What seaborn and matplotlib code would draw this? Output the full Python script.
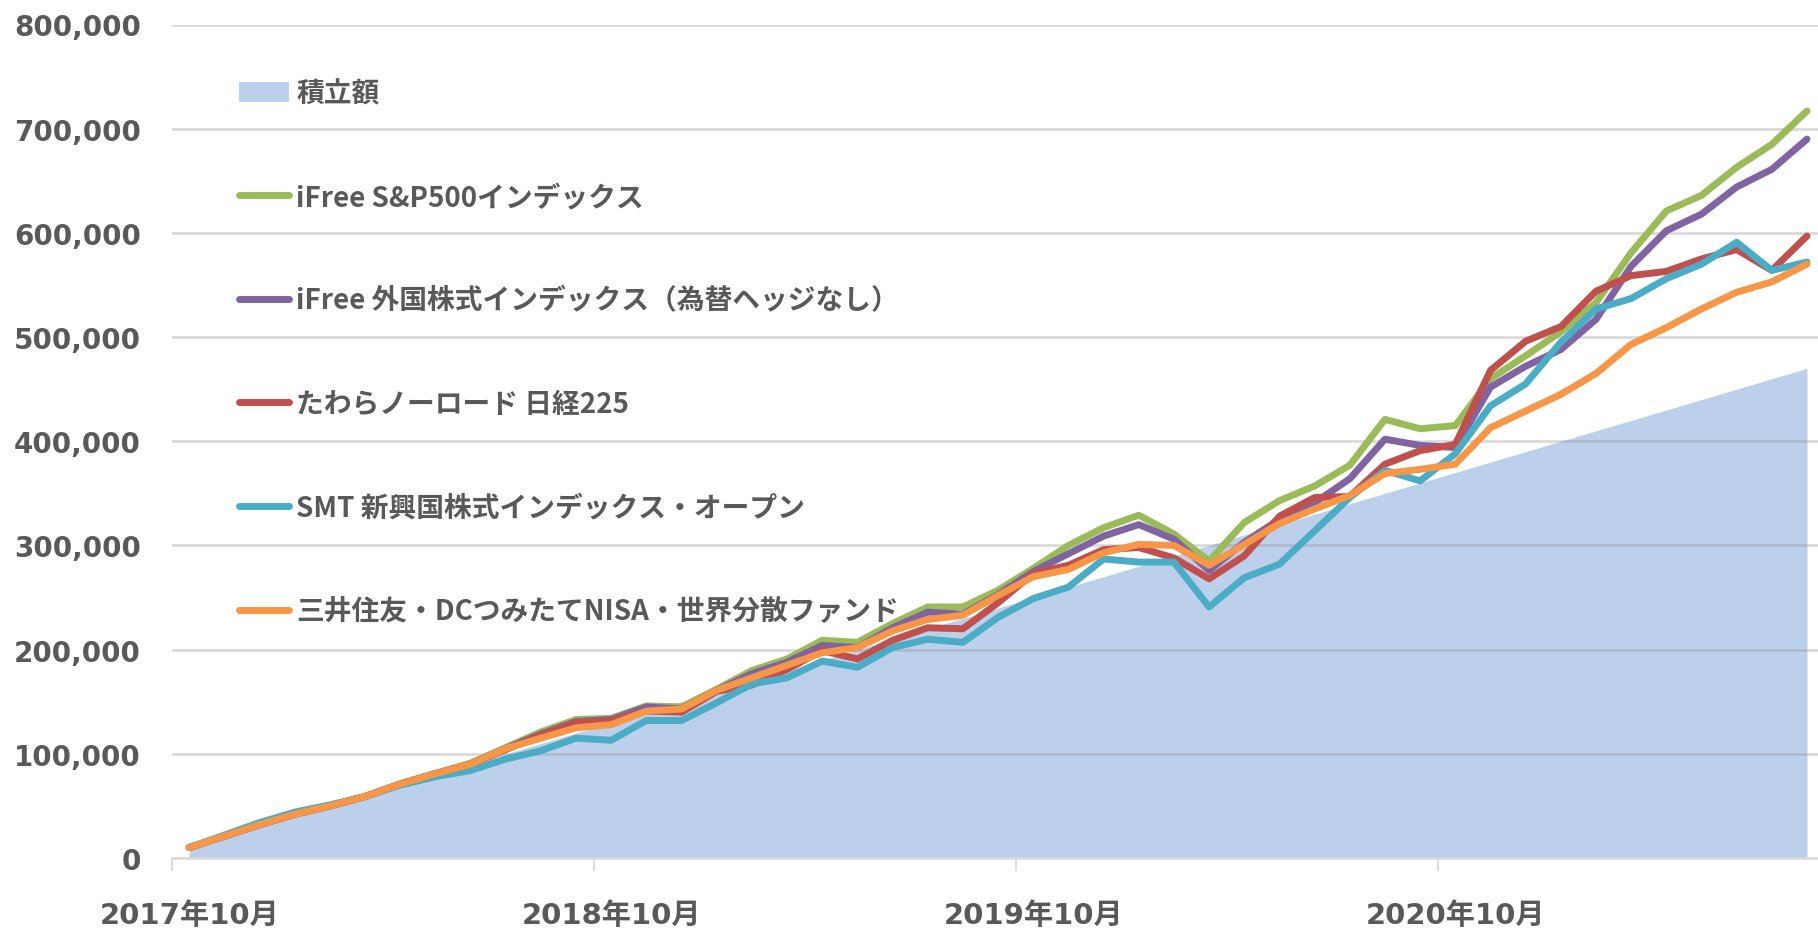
import numpy as np
import pandas as pd
import matplotlib
matplotlib.use("Agg")
import matplotlib.pyplot as plt
import seaborn as sns
from matplotlib.patches import Patch
from matplotlib.lines import Line2D
from matplotlib.ticker import FuncFormatter

# ---------------- data ----------------
months = [
    "2017年10月", "2017年11月", "2017年12月",
    "2018年1月", "2018年2月", "2018年3月", "2018年4月", "2018年5月", "2018年6月",
    "2018年7月", "2018年8月", "2018年9月", "2018年10月", "2018年11月", "2018年12月",
    "2019年1月", "2019年2月", "2019年3月", "2019年4月", "2019年5月", "2019年6月",
    "2019年7月", "2019年8月", "2019年9月", "2019年10月", "2019年11月", "2019年12月",
    "2020年1月", "2020年2月", "2020年3月", "2020年4月", "2020年5月", "2020年6月",
    "2020年7月", "2020年8月", "2020年9月", "2020年10月", "2020年11月", "2020年12月",
    "2021年1月", "2021年2月", "2021年3月", "2021年4月", "2021年5月", "2021年6月",
    "2021年7月", "2021年8月",
]

tsumitate = [10000, 20000, 30000, 40000, 50000, 60000, 70000, 80000, 90000, 100000,
             110000, 120000, 130000, 140000, 150000, 160000, 170000, 180000, 190000, 200000,
             210000, 220000, 230000, 240000, 250000, 260000, 270000, 280000, 290000, 300000,
             310000, 320000, 330000, 340000, 350000, 360000, 370000, 380000, 390000, 400000,
             410000, 420000, 430000, 440000, 450000, 460000, 470000]

sp500 = [10, 21, 32, 42, 50, 59, 71, 81, 91, 106, 121, 133, 134, 146, 145, 162, 180, 191,
         209, 207, 225, 241, 241, 257, 278, 300, 317, 329, 311, 285, 322, 343, 357, 377,
         421, 412, 415, 460, 482, 505, 533, 581, 621, 636, 663, 685, 717]
gaikoku = [10, 21, 32, 42, 50, 59, 71, 81, 90, 105, 119, 131, 133, 145, 143, 161, 177, 188,
           204, 202, 221, 236, 234, 253, 275, 292, 309, 320, 306, 276, 303, 325, 341, 364,
           402, 396, 394, 452, 472, 488, 517, 568, 602, 618, 644, 661, 690]
nikkei = [10, 21, 32, 42, 50, 59, 71, 81, 90, 104, 118, 130, 132, 141, 140, 160, 166, 181,
          199, 191, 209, 221, 220, 245, 273, 281, 296, 298, 288, 268, 290, 328, 346, 347,
          378, 391, 397, 468, 496, 510, 544, 559, 563, 575, 584, 564, 597]
shinkou = [10, 22, 34, 44, 51, 59, 70, 78, 84, 95, 103, 115, 113, 132, 132, 149, 167, 173,
           189, 183, 202, 210, 207, 231, 249, 260, 287, 284, 284, 241, 269, 282, 314, 346,
           372, 362, 388, 434, 455, 495, 527, 537, 556, 570, 591, 564, 572]
sekai = [10, 21, 32, 42, 50, 59, 71, 81, 90, 105, 115, 125, 128, 141, 143, 161, 173, 185,
         197, 202, 218, 229, 233, 252, 270, 277, 293, 301, 300, 281, 301, 321, 335, 348,
         369, 373, 378, 413, 429, 445, 465, 493, 509, 527, 543, 553, 570]

area_label = "積立額"
series_names = ["iFree S&P500インデックス", "iFree 外国株式インデックス（為替ヘッジなし）",
                "たわらノーロード 日経225", "SMT 新興国株式インデックス・オープン",
                "三井住友・DCつみたてNISA・世界分散ファンド"]
series_values = [sp500, gaikoku, nikkei, shinkou, sekai]
series_colors = ["#9BBB59", "#8064A2", "#C0504D", "#4BACC6", "#F79646"]
label_months = ["2017年10月", "2018年10月", "2019年10月", "2020年10月"]

# ---------------- style ----------------
sns.set_theme(style="white")
plt.rcParams["font.family"] = ["DejaVu Sans", "Noto Sans CJK JP"]
TEXT = "#595959"
GRID = "#D9D9D9"
AREA = "#BCD0EC"
LW = 5.0

W, H = 1818, 929
fig = plt.figure(figsize=(W / 100, H / 100), dpi=100)
x0_px, y_top_px, y_bot_px = 171.6, 25.5, 859.0
ax = fig.add_axes([x0_px / W, (H - y_bot_px) / H, (W - x0_px) / W, (y_bot_px - y_top_px) / H])

idx = np.arange(len(months))
rows = []
for name, vals in zip(series_names, series_values):
    for i, v in enumerate(vals):
        rows.append({"idx": i, "month": months[i], "series": name, "value": v * 1000})
df = pd.DataFrame(rows)

ax.fill_between(idx, tsumitate, 0, color=AREA, lw=0, zorder=1)
sns.lineplot(data=df, x="idx", y="value", hue="series", hue_order=series_names,
             palette=dict(zip(series_names, series_colors)), linewidth=LW,
             legend=False, sort=False, ax=ax, zorder=2,
             solid_capstyle="round", solid_joinstyle="round")

ax.set_xlim(-0.5, (W - x0_px) / 35.17 - 0.5)
ax.set_ylim(0, 800000)

# grid
ax.set_axisbelow("line")
ax.yaxis.grid(True, color="#8c8c8c", alpha=0.33, lw=1.9)
ax.xaxis.grid(False)
ax.set_yticks(np.arange(0, 800001, 100000))
ax.yaxis.set_major_formatter(FuncFormatter(lambda v, p: f"{int(v):,}"))
ax.tick_params(axis="y", length=0, pad=22, labelsize=20, labelcolor=TEXT)
for t in ax.get_yticklabels():
    t.set_fontweight("bold")
    t.set_family("DejaVu Sans")

# x ticks: marks at category boundaries, labels centered on categories
label_pos = [months.index(m) for m in label_months]
ax.set_xticks([p - 0.5 for p in label_pos])
ax.set_xticklabels([])
ax.tick_params(axis="x", which="major", length=9.5, width=1.3, color=GRID, direction="out", bottom=True)
ax.set_xticks(label_pos, minor=True)
ax.set_xticklabels(label_months, minor=True)
ax.tick_params(axis="x", which="minor", length=0, pad=31, labelsize=21, labelcolor=TEXT)
for t in ax.get_xticklabels(minor=True):
    t.set_fontweight("bold")

for s in ["top", "right", "left"]:
    ax.spines[s].set_visible(False)
ax.spines["bottom"].set_color(GRID)
ax.spines["bottom"].set_linewidth(1.8)
ax.set_xlabel("")
ax.set_ylabel("")

# legend
handles = [Patch(facecolor=AREA, edgecolor="none")]
for c in series_colors:
    handles.append(Line2D([0], [0], color=c, lw=LW, solid_capstyle="round"))
labels = [area_label] + series_names
leg = ax.legend(handles, labels, loc="upper left", bbox_to_anchor=(0.041, 0.934),
                frameon=False, handlelength=1.8, handletextpad=0.25, labelspacing=2.72,
                borderaxespad=0, borderpad=0,
                prop={"family": ["Noto Sans CJK JP", "DejaVu Sans"], "weight": "bold", "size": 20})
for t in leg.get_texts():
    t.set_color(TEXT)

fig.savefig("out.png", dpi=100)
